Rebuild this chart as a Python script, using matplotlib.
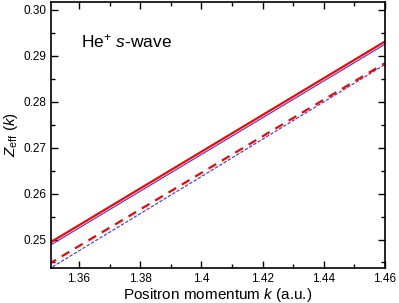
import matplotlib
matplotlib.use("Agg")
import matplotlib.pyplot as plt
from matplotlib.ticker import MultipleLocator

plt.rcParams['font.family'] = ['Liberation Sans', 'DejaVu Sans']
plt.rcParams['mathtext.fontset'] = 'custom'
plt.rcParams['mathtext.rm'] = 'Liberation Sans'
plt.rcParams['mathtext.it'] = 'Liberation Sans:italic'

k = [1.35, 1.40, 1.46]
red_solid = [0.2491, 0.2691, 0.2931]
blue_solid = [0.2485, 0.2685, 0.2925]
red_dashed = [0.2446, 0.2645, 0.2884]
blue_dashed = [0.2435, 0.2637, 0.2881]

fig = plt.figure(figsize=(3.99, 3.03), dpi=100)
ax = fig.add_axes([0.128, 0.1155, 0.837, 0.878])

ax.plot(k, blue_solid, color='#3030ff', lw=0.8)
ax.plot(k, red_solid, color='#ff0000', lw=1.6)
ax.plot(k, blue_dashed, color='#3030ff', lw=0.8, dashes=(3, 1.5))
ax.plot(k, red_dashed, color='#ff0000', lw=1.6, dashes=(4, 3))

ax.set_xlim(1.3509, 1.46)
ax.set_ylim(0.2438, 0.3017)
ax.xaxis.set_minor_locator(MultipleLocator(0.01))
ax.yaxis.set_minor_locator(MultipleLocator(0.005))
ax.set_xticks([1.36, 1.38, 1.40, 1.42, 1.44, 1.46])
ax.set_xticklabels(['1.36', '1.38', '1.4', '1.42', '1.44', '1.46'])
ax.set_yticks([0.25, 0.26, 0.27, 0.28, 0.29, 0.30])
ax.set_yticklabels(['0.25', '0.26', '0.27', '0.28', '0.29', '0.30'])
ax.tick_params(which='both', direction='in', top=True, right=True, labelsize=8.5, width=1)
ax.tick_params(which='major', length=5)
ax.tick_params(which='minor', length=3)
for s in ax.spines.values():
    s.set_linewidth(1.2)

ax.set_xlabel('Positron momentum $\\mathit{k}$ (a.u.)', fontsize=11, labelpad=1)
ax.set_ylabel('$Z_{\\rm eff}$ $(\\mathit{k})$', fontsize=11, labelpad=2)
ax.text(0.09, 0.83, 'He$^{+}$ $\\mathit{s}$-wave', transform=ax.transAxes, fontsize=12.5)

fig.savefig('out.png', dpi=100)
